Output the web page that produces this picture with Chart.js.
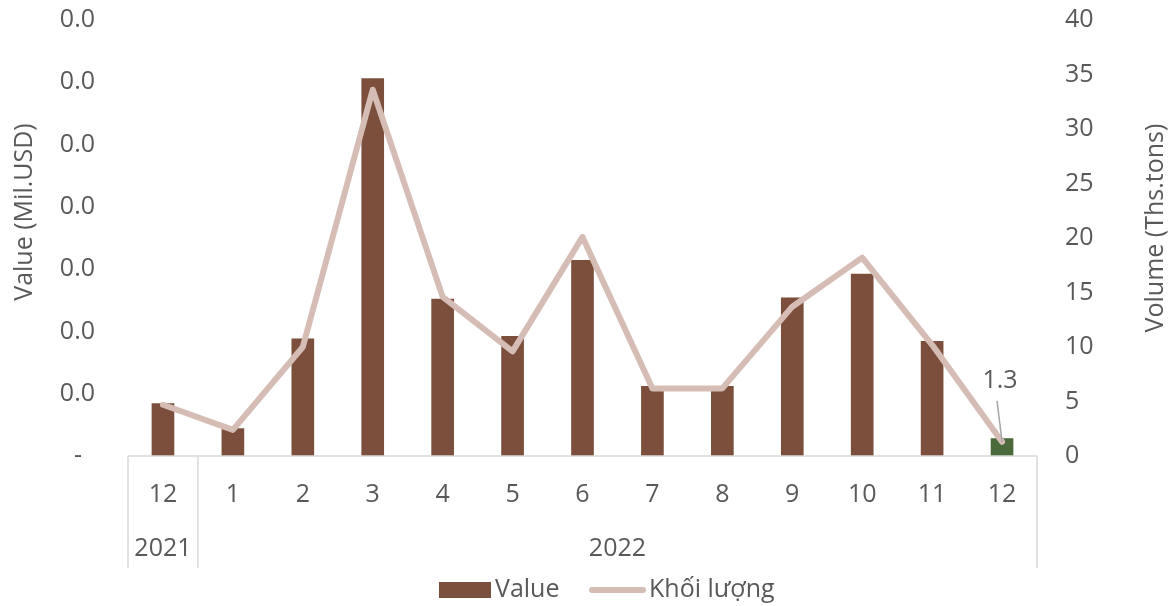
<!DOCTYPE html>
<html>
<head>
<meta charset="utf-8">
<script src="https://cdn.jsdelivr.net/npm/chart.js@4"></script>
<style>
  html, body { margin: 0; padding: 0; background: #fff; }
  #wrap { width: 1173px; height: 606px; }
</style>
</head>
<body>
<div id="wrap"><canvas id="chart" width="1173" height="606"></canvas></div>
<script>
// data
const months = ['12', '1', '2', '3', '4', '5', '6', '7', '8', '9', '10', '11', '12'];
const yearGroups = [['2021', 0, 0], ['2022', 1, 12]];
const valueData = [0.0042, 0.0022, 0.0094, 0.0303, 0.0126, 0.0096, 0.0157, 0.0056, 0.0056, 0.0127, 0.0146, 0.0092, 0.0014];
const volumeData = [4.7, 2.4, 10.0, 33.6, 14.6, 9.6, 20.1, 6.2, 6.2, 13.7, 18.2, 10.2, 1.3];

const textColor = '#595959';
const barColor = '#7B4F3B';
const lastBarColor = '#4B6A3B';
const lineColor = '#D5BDB5';
const gridColor = '#D9D9D9';
const fontFamily = "'Open Sans', 'Noto Sans', sans-serif";
const fontSize = 25;

// year row, separators, axis titles and the data label on the last point
const categoryAxis = {
    id: 'categoryAxis',
    afterDraw(chart) {
        const ctx = chart.ctx;
        const area = chart.chartArea;
        const x = chart.scales.x;
        const half = (x.getPixelForValue(1) - x.getPixelForValue(0)) / 2;
        ctx.save();
        ctx.strokeStyle = gridColor;
        ctx.lineWidth = 1.5;
        ctx.beginPath();
        ctx.moveTo(area.left, area.bottom);
        ctx.lineTo(area.right, area.bottom);
        const edges = [area.left, x.getPixelForValue(0) + half, area.right];
        edges.forEach(px => {
            ctx.moveTo(px, area.bottom);
            ctx.lineTo(px, area.bottom + 112);
        });
        ctx.stroke();

        ctx.fillStyle = textColor;
        ctx.font = fontSize + 'px ' + fontFamily;
        ctx.textAlign = 'center';
        ctx.textBaseline = 'middle';
        yearGroups.forEach(([label, from, to]) => {
            const cx = (x.getPixelForValue(from) - half + x.getPixelForValue(to) + half) / 2;
            ctx.fillText(label, cx, area.bottom + 93);
        });

        // axis titles, both reading bottom to top
        [['Value (Mil.USD)', 25, 212], ['Volume (Ths.tons)', 1156, 228]].forEach(([t, tx, ty]) => {
            ctx.save();
            ctx.translate(tx, ty);
            ctx.rotate(-Math.PI / 2);
            ctx.fillText(t, 0, 0);
            ctx.restore();
        });

        // data label "1.3" with leader line
        const meta = chart.getDatasetMeta(1);
        const last = meta.data[meta.data.length - 1];
        ctx.strokeStyle = '#A6A6A6';
        ctx.lineWidth = 1.5;
        ctx.beginPath();
        ctx.moveTo(last.x - 5, last.y - 41);
        ctx.lineTo(last.x, last.y);
        ctx.stroke();
        ctx.fillText(volumeData[volumeData.length - 1].toFixed(1), last.x - 2, last.y - 61);
        ctx.restore();
    }
};

// bottom legend
const bottomLegend = {
    id: 'bottomLegend',
    afterDraw(chart) {
        const ctx = chart.ctx;
        ctx.save();
        ctx.font = fontSize + 'px ' + fontFamily;
        ctx.textBaseline = 'middle';
        ctx.textAlign = 'left';
        const y = 590;
        ctx.fillStyle = barColor;
        ctx.fillRect(439, y - 8, 52, 16);
        ctx.fillStyle = textColor;
        ctx.fillText(chart.data.datasets[0].label, 495, y);
        ctx.strokeStyle = lineColor;
        ctx.lineWidth = 6;
        ctx.lineCap = 'round';
        ctx.beginPath();
        ctx.moveTo(592, y);
        ctx.lineTo(643, y);
        ctx.stroke();
        ctx.fillText(chart.data.datasets[1].label, 649, y);
        ctx.restore();
    }
};

new Chart(document.getElementById('chart').getContext('2d'), {
    data: {
        labels: months,
        datasets: [
            {
                type: 'bar',
                label: 'Value',
                data: valueData,
                yAxisID: 'y',
                backgroundColor: valueData.map((v, i) => i === valueData.length - 1 ? lastBarColor : barColor),
                barThickness: 22,
                order: 2
            },
            {
                type: 'line',
                label: 'Khối lượng',
                data: volumeData,
                yAxisID: 'y1',
                borderColor: lineColor,
                backgroundColor: lineColor,
                borderWidth: 6,
                borderJoinStyle: 'round',
                borderCapStyle: 'round',
                pointRadius: 0,
                tension: 0,
                order: 1
            }
        ]
    },
    options: {
        responsive: false,
        animation: false,
        layout: { padding: { top: 20, bottom: 38, left: 0, right: 0 } },
        plugins: {
            legend: { display: false },
            tooltip: { enabled: false }
        },
        scales: {
            x: {
                grid: { display: false, drawTicks: false },
                border: { display: false },
                ticks: {
                    color: textColor,
                    font: { family: fontFamily, size: fontSize },
                    padding: 24,
                    maxRotation: 0
                },
                afterFit(scale) { scale.height = 112; }
            },
            y: {
                position: 'left',
                min: 0,
                max: 0.035,
                grid: { display: false, drawTicks: false },
                border: { display: false },
                ticks: {
                    stepSize: 0.005,
                    color: textColor,
                    font: { family: fontFamily, size: fontSize },
                    padding: 33,
                    callback: v => v === 0 ? '-  ' : '0.0'
                },
                afterFit(scale) {
                    scale.width = 128;
                    scale.paddingTop = 0;
                    scale.paddingBottom = 0;
                }
            },
            y1: {
                position: 'right',
                min: 0,
                max: 40,
                grid: { display: false, drawTicks: false },
                border: { display: false },
                ticks: {
                    stepSize: 5,
                    color: textColor,
                    font: { family: fontFamily, size: fontSize },
                    padding: 28
                },
                afterFit(scale) {
                    scale.width = 136;
                    scale.paddingTop = 0;
                    scale.paddingBottom = 0;
                }
            }
        }
    },
    plugins: [categoryAxis, bottomLegend]
});
</script>
</body>
</html>
